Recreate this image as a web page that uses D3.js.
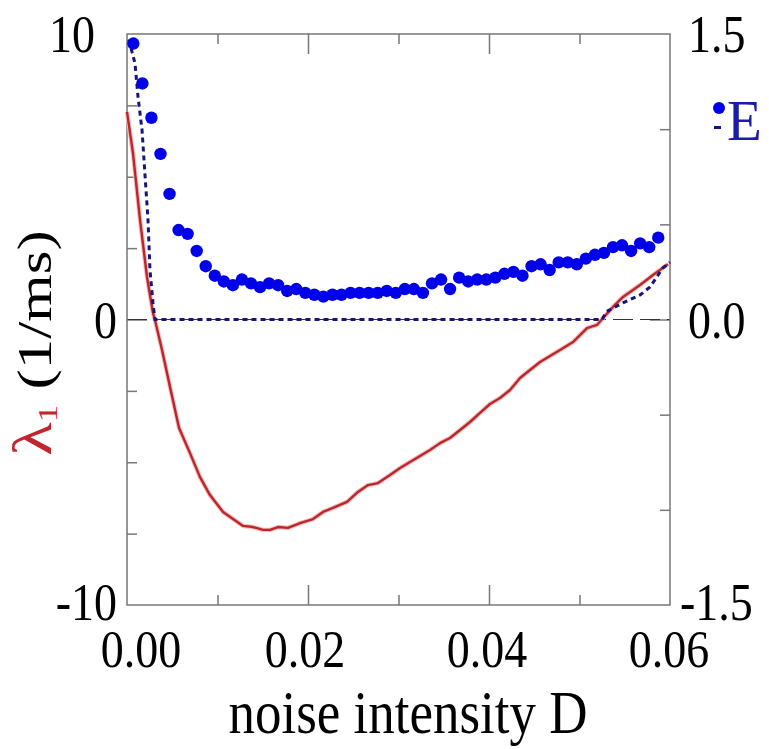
<!DOCTYPE html>
<html><head><meta charset="utf-8">
<script src="https://cdn.jsdelivr.net/npm/d3@7/dist/d3.min.js"></script>
<style>body{margin:0;background:#fff}svg{display:block}text{font-family:"Liberation Serif","Times New Roman",serif}</style>
</head><body><svg id="c" width="769" height="749"></svg>
<script>
// E (right axis) — blue dots
const dotD = [0.0007,0.0017,0.0027,0.0037,0.0047,0.0057,0.0067,0.0077,0.0087,0.0097,
  0.0107,0.0117,0.0127,0.0137,0.0147,0.0157,0.0167,0.0177,0.0187,0.0197,
  0.0207,0.0217,0.0227,0.0237,0.0247,0.0257,0.0267,0.0277,0.0287,0.0297,
  0.0307,0.0317,0.0327,0.0337,0.0347,0.0357,0.0367,0.0377,0.0387,0.0397,
  0.0407,0.0417,0.0427,0.0437,0.0447,0.0457,0.0467,0.0477,0.0487,0.0497,
  0.0507,0.0517,0.0527,0.0537,0.0547,0.0557,0.0567,0.0577,0.0587];
const eVals = [1.45,1.24,1.06,0.87,0.66,0.47,0.45,0.36,0.28,0.23,
  0.20,0.18,0.21,0.19,0.17,0.19,0.18,0.15,0.16,0.14,
  0.13,0.12,0.13,0.13,0.14,0.14,0.14,0.14,0.15,0.14,
  0.16,0.16,0.14,0.19,0.21,0.16,0.22,0.20,0.21,0.21,
  0.22,0.24,0.25,0.23,0.28,0.29,0.26,0.30,0.30,0.29,
  0.32,0.34,0.35,0.38,0.39,0.36,0.40,0.38,0.43];
// lambda_1 (left axis) — red line
const lamD = [0.0000,0.00066,0.00144,0.00221,0.00287,0.00309,0.00387,0.00475,0.00575,0.00696,
  0.00807,0.00917,0.01061,0.01282,0.01392,0.01503,0.01580,0.01669,0.01779,0.01912,
  0.02055,0.02166,0.02276,0.02431,0.02552,0.02663,0.02773,0.02906,0.03017,0.03127,
  0.03238,0.03348,0.03459,0.03569,0.03680,0.03790,0.03901,0.04011,0.04122,0.04232,
  0.04343,0.04453,0.04564,0.04674,0.04785,0.04928,0.05083,0.05193,0.05260,0.05370,
  0.05481,0.05669,0.05812,0.05978];
const lamVals = [7.27,5.83,3.49,1.49,0.23,-0.02,-1.07,-2.36,-3.80,-4.68,
  -5.52,-6.15,-6.74,-7.23,-7.27,-7.37,-7.37,-7.27,-7.30,-7.13,
  -6.99,-6.74,-6.60,-6.39,-6.04,-5.80,-5.73,-5.45,-5.20,-4.99,
  -4.78,-4.57,-4.33,-4.15,-3.87,-3.59,-3.27,-2.96,-2.75,-2.47,
  -2.05,-1.77,-1.49,-1.28,-1.07,-0.79,-0.30,-0.19,0.05,0.44,
  0.79,1.21,1.56,1.94];
// dotted navy line (left axis units)
const dotLineD = [0.0002,0.00088,0.00122,0.00166,0.00199,0.00232,0.00254,0.00287,0.00309,0.0525,0.0530,0.0548,0.0567,0.0578,0.0592,0.0600];
const dotLineVals = [9.8,8.98,7.79,6.64,5.06,3.49,1.73,0.58,0.0,0.0,0.28,0.58,0.86,1.14,1.80,2.01];

const xLabels = ["0.00","0.02","0.04","0.06"];
const xMajor = [0.02,0.04], xMinor = [0.01,0.03,0.05];
const yLTicksMinor = [7.5,5,2.5,-2.5,-5,-7.5], yLTicksMajor = [0];
const yLLabels = ["10","0","-10"];
const yRTicksMinor = [1.0,0.5,-0.5,-1.0];
const yRLabels = ["1.5","0.0","-1.5"];

const svg = d3.select("#c");
const L=127,R=670,T=34,B=605;
const x = d3.scaleLinear().domain([0,0.06]).range([L,R]);
const yL = d3.scaleLinear().domain([-10,10]).range([B,T]);
const yR = d3.scaleLinear().domain([-1.5,1.5]).range([B,T]);
const axisColor = "#777";

function ax(gen, tr){
  const g = svg.append("g").attr("transform",tr).call(gen);
  g.select(".domain").remove();
  g.selectAll("line").attr("stroke",axisColor).attr("stroke-width",1.5);
  g.selectAll("text").remove();
}
ax(d3.axisBottom(x).tickValues(xMinor).tickSize(-10), `translate(0,${B})`);
ax(d3.axisBottom(x).tickValues(xMajor).tickSize(-20), `translate(0,${B})`);
ax(d3.axisTop(x).tickValues(xMinor).tickSize(-10), `translate(0,${T})`);
ax(d3.axisTop(x).tickValues(xMajor).tickSize(-20), `translate(0,${T})`);
ax(d3.axisLeft(yL).tickValues(yLTicksMinor).tickSize(-10), `translate(${L},0)`);
ax(d3.axisLeft(yL).tickValues(yLTicksMajor).tickSize(-20), `translate(${L},0)`);
ax(d3.axisRight(yR).tickValues(yRTicksMinor).tickSize(-10), `translate(${R},0)`);
ax(d3.axisRight(yR).tickValues([0]).tickSize(-20), `translate(${R},0)`);

svg.append("line").attr("x1",L).attr("x2",R).attr("y1",yL(0)).attr("y2",yL(0))
  .attr("stroke","#333").attr("stroke-width",1).attr("stroke-dasharray","20,7");

svg.append("rect").attr("x",L).attr("y",T).attr("width",R-L).attr("height",B-T)
  .attr("fill","none").attr("stroke",axisColor).attr("stroke-width",1.5);

const lamData = lamD.map((d,i)=>[d,lamVals[i]]);
const lineL = d3.line().x(d=>x(d[0])).y(d=>yL(d[1]));
svg.append("path").datum(lamData).attr("d", lineL)
  .attr("fill","none").attr("stroke","#f4c0c0").attr("stroke-width",4.5).attr("stroke-linejoin","round");
svg.append("path").datum(lamData).attr("d", lineL)
  .attr("fill","none").attr("stroke","#bc2529").attr("stroke-width",2.4).attr("stroke-linejoin","round");

const dlData = dotLineD.map((d,i)=>[d,dotLineVals[i]]);
svg.append("path").datum(dlData).attr("d", lineL)
  .attr("fill","none").attr("stroke","#16167a").attr("stroke-width",3).attr("stroke-dasharray","5,4");

svg.append("g").selectAll("circle").data(dotD).join("circle")
  .attr("cx",(d)=>x(d)).attr("cy",(d,i)=>yR(eVals[i])).attr("r",6.2)
  .attr("fill","#0000ea");

// text helper with vertical stretch (tall Times look)
const SY = 1.15;
function txt(xp, yp, s, fs, anchor, fill, sy){
  return svg.append("text").attr("transform",`translate(${xp},${yp}) scale(1,${sy||SY})`)
    .attr("text-anchor",anchor).attr("font-size",fs).attr("fill",fill||"#000").text(s);
}
const fs = 46;
const xOff = {"0.00":14,"0.02":-3,"0.04":-2,"0.06":-1};
xLabels.forEach(s=>txt(x(+s)+xOff[s], 667, s, fs, "middle"));
yLLabels.forEach(s=>txt(s==="10"?95:117, +s<0?yL(+s)+15:yL(+s)+18, s, fs, "end"));
yRLabels.forEach(s=>txt(+s<0?680:688, +s<0?yR(+s)+15:yR(+s)+18, s, fs, "start"));

// axis titles
txt(408, 733, "noise intensity D", 53, "middle");
const yt = svg.append("text").attr("transform","translate(51,343) rotate(-90) scale(1.27,1)")
  .attr("text-anchor","middle").attr("font-size",48);
yt.append("tspan").attr("fill","#c0262b").attr("font-size",54).text("λ");
yt.append("tspan").attr("fill","#c0262b").attr("font-size",28).attr("dy",6).text("1");
yt.append("tspan").attr("fill","#000").attr("dy",-6).text(" (1/ms)");

// legend
svg.append("circle").attr("cx",719).attr("cy",108).attr("r",6).attr("fill","#0000ea");
svg.append("rect").attr("x",714).attr("y",126).attr("width",7).attr("height",3).attr("fill","#16167a");
txt(727, 140, "E", 57, "start", "#1c1ca8", 1);
</script></body></html>
